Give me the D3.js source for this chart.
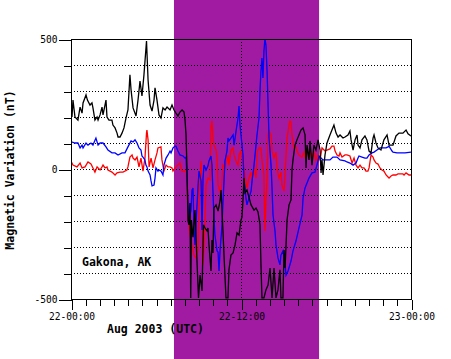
<!DOCTYPE html>
<html><head><meta charset="utf-8">
<script src="https://cdn.jsdelivr.net/npm/d3@7"></script>
<style>html,body{margin:0;padding:0;background:#fff;} svg{display:block;}</style>
</head><body>
<svg id="chart" width="451" height="359"></svg>
<script>
// ---- data (hours since 22-00:00 UTC, nT) ----
const xTickHours = [0, 12, 24];
const xTickLabels = ["22-00:00", "22-12:00", "23-00:00"];
const yLabeledTicks = [500, 0, -500];
const yGridValues = [400, 300, 200, 100, 0, -100, -200, -300, -400];
const highlightHours = [7.27, 17.51];
const stationName = "Gakona, AK";
const xTitle = "Aug 2003 (UTC)";
const yTitle = "Magnetic Variation (nT)";

const blackSeries = [
[0,265],[0.07,200],[0.14,265],[0.28,200],[0.49,188],[0.64,238],[0.78,215],[0.85,254],[1.06,285],[1.16,265],
[1.34,246],[1.48,254],[1.55,235],[1.69,188],[1.84,200],[1.91,188],[2.05,208],[2.19,238],[2.26,208],[2.47,265],
[2.54,200],[2.68,188],[2.89,188],[2.96,169],[3.11,158],[3.25,138],[3.32,123],[3.46,123],[3.6,138],[3.74,158],
[3.88,196],[4.02,227],[4.16,362],[4.24,304],[4.38,235],[4.59,204],[4.73,265],[4.87,338],[5.01,281],[5.15,362],
[5.33,492],[5.44,342],[5.58,246],[5.72,223],[5.86,265],[5.93,312],[6.07,265],[6.21,208],[6.35,196],[6.49,235],
[6.64,227],[6.78,238],[6.99,227],[7.13,246],[7.27,227],[7.41,215],[7.55,204],[7.69,219],[7.84,227],[7.98,219],
[8.05,188],[8.12,131],[8.19,-4],[8.26,-200],[8.33,-215],[8.4,-131],[8.45,-496],[8.5,-196],[8.61,-262],[8.75,-158],
[8.89,-350],[9.0,-496],[9.11,-408],[9.25,-469],[9.35,-215],[9.46,-227],[9.6,-238],[9.67,-227],[9.74,-292],[9.88,-392],
[9.95,-273],[10.02,-323],[10.09,-150],[10.24,-138],[10.38,-162],[10.52,-123],[10.59,-81],[10.66,-158],[10.8,-331],[10.94,-496],
[11.08,-496],[11.15,-388],[11.29,-331],[11.44,-323],[11.58,-292],[11.72,-246],[11.86,-254],[12.0,-196],[12.07,-185],[12.14,-119],
[12.21,-35],[12.28,-92],[12.42,-81],[12.56,-108],[12.71,-138],[12.92,-158],[13.06,-150],[13.2,-165],[13.34,-215],[13.41,-369],
[13.48,-496],[13.62,-496],[13.76,-465],[13.91,-446],[14.05,-381],[14.19,-496],[14.33,-381],[14.47,-496],[14.61,-465],[14.75,-388],
[14.82,-496],[14.96,-496],[15.04,-312],[15.11,-381],[15.18,-292],[15.25,-196],[15.39,-138],[15.53,-119],[15.6,-4],[15.67,35],
[15.81,92],[15.95,112],[16.09,131],[16.23,150],[16.38,158],[16.52,131],[16.59,4],[16.66,92],[16.8,35],[16.87,108],
[17.01,15],[17.15,92],[17.29,73],[17.44,112],[17.58,73],[17.65,-15],[17.72,35],[17.79,-23],[17.93,54],[18.07,100],
[18.28,131],[18.42,150],[18.56,169],[18.71,138],[18.85,123],[18.99,131],[19.2,119],[19.34,123],[19.55,131],[19.69,146],
[19.77,112],[19.91,73],[20.05,112],[20.19,131],[20.26,92],[20.4,81],[20.54,112],[20.75,127],[20.89,112],[21.04,69],
[21.18,62],[21.32,119],[21.39,131],[21.53,100],[21.67,81],[21.88,73],[22.09,112],[22.31,131],[22.45,92],[22.73,92],
[22.94,127],[23.15,138],[23.43,138],[23.65,150],[23.79,135],[24,127]
];

const redSeries = [
[0,8],[0.03,27],[0.14,15],[0.42,8],[0.64,23],[0.78,4],[0.99,8],[1.2,27],[1.41,19],[1.55,4],
[1.69,-12],[1.84,8],[2.05,-4],[2.19,8],[2.26,15],[2.4,4],[2.54,8],[2.61,-4],[2.89,-12],[3.11,-23],
[3.25,-15],[3.46,-12],[3.67,-12],[3.95,-4],[4.02,8],[4.16,46],[4.31,54],[4.38,42],[4.52,35],[4.66,46],
[4.8,8],[4.94,42],[5.08,-8],[5.22,42],[5.33,138],[5.36,150],[5.44,112],[5.51,8],[5.65,42],[5.79,4],
[5.93,35],[6.07,62],[6.14,81],[6.35,85],[6.42,35],[6.56,-8],[6.71,15],[6.85,8],[6.99,8],[7.13,4],
[7.2,-8],[7.34,4],[7.48,12],[7.69,23],[7.84,-8],[8.05,-8],[8.12,-4],[8.19,-62],[8.26,-177],[8.4,-254],
[8.54,-292],[8.68,-331],[8.82,-342],[8.96,-312],[9.04,-100],[9.18,31],[9.25,-119],[9.32,-369],[9.39,-292],[9.53,-62],
[9.67,-35],[9.81,-42],[9.88,158],[9.95,185],[10.02,119],[10.09,92],[10.24,73],[10.31,42],[10.38,-62],[10.45,-73],
[10.59,-100],[10.73,15],[10.87,4],[11.01,35],[11.08,54],[11.15,15],[11.29,73],[11.44,81],[11.51,54],[11.65,31],
[11.79,15],[11.86,54],[12.0,69],[12.14,15],[12.28,-23],[12.42,-73],[12.56,-35],[12.71,-12],[12.78,-42],[12.92,4],
[13.06,-35],[13.13,65],[13.27,81],[13.41,81],[13.48,35],[13.62,-23],[13.69,-238],[13.76,-119],[13.84,-42],[13.91,131],
[13.98,146],[14.12,131],[14.19,69],[14.33,42],[14.47,65],[14.54,4],[14.68,-35],[14.82,-12],[14.89,-62],[15.04,-85],
[15.18,54],[15.25,119],[15.39,169],[15.46,185],[15.53,181],[15.6,131],[15.74,81],[15.88,85],[15.95,69],[16.09,54],
[16.31,46],[16.45,65],[16.52,42],[16.66,81],[16.8,42],[16.87,73],[17.01,35],[17.15,69],[17.29,31],[17.44,54],
[17.58,35],[17.72,81],[17.93,69],[18.07,73],[18.28,77],[18.42,88],[18.56,88],[18.64,69],[18.78,54],[18.92,50],
[18.99,62],[19.13,46],[19.34,54],[19.48,54],[19.69,50],[19.84,23],[19.98,42],[20.12,15],[20.26,4],[20.4,15],
[20.54,4],[20.68,4],[20.82,-8],[20.96,-8],[21.04,4],[21.18,54],[21.32,46],[21.39,35],[21.53,23],[21.67,19],
[21.81,4],[21.95,-4],[22.09,-8],[22.24,-23],[22.38,-31],[22.45,-35],[22.59,-27],[22.73,-23],[22.94,-23],[23.08,-19],
[23.43,-19],[23.51,-23],[23.65,-15],[23.86,-23],[24,-23]
];

const blueSeries = [
[0,138],[0.03,100],[0.07,104],[0.28,100],[0.49,100],[0.64,81],[0.78,92],[0.85,81],[1.06,100],[1.2,92],
[1.41,100],[1.55,92],[1.76,119],[1.91,92],[2.05,100],[2.26,100],[2.47,85],[2.61,73],[2.89,62],[3.11,62],
[3.32,54],[3.6,62],[3.81,62],[4.02,85],[4.24,108],[4.38,104],[4.52,112],[4.66,100],[4.8,81],[4.94,73],
[5.01,50],[5.08,46],[5.22,35],[5.29,15],[5.36,8],[5.44,-8],[5.58,-23],[5.65,-46],[5.72,-65],[5.86,-62],
[5.93,-35],[6.0,4],[6.14,-8],[6.21,-4],[6.35,-8],[6.49,-23],[6.56,15],[6.71,42],[6.85,54],[6.99,69],
[7.06,62],[7.2,81],[7.34,88],[7.41,88],[7.55,69],[7.69,54],[7.91,50],[8.05,42],[8.12,46],[8.19,-42],
[8.26,-138],[8.33,-200],[8.47,-158],[8.54,-81],[8.61,-73],[8.68,-215],[8.75,-292],[8.82,-215],[8.96,-73],[9.04,-8],
[9.18,-46],[9.25,-235],[9.32,-35],[9.39,15],[9.53,-4],[9.67,12],[9.74,31],[9.88,50],[9.95,15],[10.02,-85],
[10.09,-188],[10.16,-254],[10.31,-315],[10.38,-319],[10.45,-392],[10.52,-315],[10.66,-215],[10.73,-123],[10.8,-46],[10.87,31],
[11.01,69],[11.08,119],[11.15,108],[11.29,119],[11.44,131],[11.51,92],[11.65,146],[11.79,196],[11.86,242],[11.93,169],
[12.0,131],[12.14,54],[12.21,-35],[12.35,-112],[12.42,-138],[12.56,-112],[12.71,-85],[12.78,-46],[12.92,15],[13.06,92],
[13.13,131],[13.27,196],[13.34,300],[13.41,377],[13.48,427],[13.55,350],[13.62,454],[13.69,500],[13.76,477],[13.84,377],
[13.91,246],[13.98,119],[14.12,15],[14.19,-73],[14.26,-177],[14.4,-238],[14.47,-292],[14.61,-342],[14.75,-369],[14.82,-331],
[14.96,-315],[15.11,-369],[15.18,-408],[15.32,-392],[15.53,-354],[15.67,-315],[15.88,-277],[16.09,-227],[16.31,-177],[16.38,-112],
[16.52,-73],[16.8,-35],[17.01,-15],[17.22,-12],[17.36,15],[17.51,50],[17.58,46],[17.79,35],[17.93,35],[18.28,35],
[18.49,46],[18.78,46],[18.99,35],[19.34,31],[19.48,27],[19.69,23],[19.91,15],[20.12,23],[20.26,42],[20.33,50],
[20.54,46],[20.75,42],[20.89,42],[21.04,54],[21.25,62],[21.39,65],[21.6,73],[21.81,81],[22.02,81],[22.24,81],
[22.38,85],[22.45,88],[22.66,69],[22.73,65],[23.01,62],[23.22,62],[23.58,62],[24,65]
];

// ---- drawing ----
const W = 451, H = 359;
const M = {left: 71, right: 411, top: 39, bottom: 299};
const svg = d3.select("#chart");
const x = d3.scaleLinear().domain([0, 24]).range([M.left, M.right]);
const y = d3.scaleLinear().domain([-500, 500]).range([M.bottom, M.top]);
const mono = "'DejaVu Sans Mono', 'Liberation Mono', monospace";

svg.append("rect").attr("width", W).attr("height", H).attr("fill", "#fff");

// highlighted interval band (full height)
svg.append("rect")
  .attr("x", x(highlightHours[0])).attr("y", 0)
  .attr("width", x(highlightHours[1]) - x(highlightHours[0])).attr("height", H)
  .attr("fill", "#a11aa2");

// dotted gridlines
const grid = svg.append("g").attr("stroke", "#000").attr("stroke-width", 1)
  .attr("stroke-dasharray", "1,2").attr("shape-rendering", "crispEdges");
grid.selectAll("line.h").data(yGridValues).join("line").attr("class", "h")
  .attr("x1", M.left).attr("x2", M.right)
  .attr("y1", d => Math.round(y(d)) + 0.5).attr("y2", d => Math.round(y(d)) + 0.5);
grid.append("line")
  .attr("x1", Math.round(x(12)) + 0.5).attr("x2", Math.round(x(12)) + 0.5)
  .attr("y1", M.top).attr("y2", M.bottom);

// clip
svg.append("clipPath").attr("id", "plotclip").append("rect")
  .attr("x", M.left).attr("y", M.top).attr("width", M.right - M.left).attr("height", M.bottom - M.top);

const line = d3.line().x(d => x(d[0])).y(d => y(d[1]));
const lines = svg.append("g").attr("clip-path", "url(#plotclip)").attr("fill", "none")
  .attr("stroke-width", 1.3).attr("stroke-linejoin", "miter");
lines.append("path").datum(redSeries).attr("d", line).attr("stroke", "#ff0000");
lines.append("path").datum(blueSeries).attr("d", line).attr("stroke", "#0000ff");
lines.append("path").datum(blackSeries).attr("d", line).attr("stroke", "#000000");

// frame
svg.append("rect").attr("x", M.left + 0.5).attr("y", M.top + 0.5)
  .attr("width", M.right - M.left).attr("height", M.bottom - M.top)
  .attr("fill", "none").attr("stroke", "#000").attr("shape-rendering", "crispEdges");

// x axis
const xAxis = d3.axisBottom(x).tickValues(d3.range(0, 25)).tickSize(6).tickSizeOuter(0)
  .tickFormat(d => { const i = xTickHours.indexOf(d); return i >= 0 ? xTickLabels[i] : ""; });
const gx = svg.append("g").attr("transform", `translate(0.5,${M.bottom + 0.5})`).call(xAxis);
gx.select(".domain").remove();
gx.selectAll(".tick line").attr("stroke", "#000").attr("shape-rendering", "crispEdges")
  .attr("y2", d => xTickHours.includes(d) ? 10 : 6);
gx.selectAll(".tick text").attr("y", 20).attr("dy", 0)
  .attr("font-family", mono).attr("font-size", "9.6px").attr("fill", "#000");

// y axis
const yAxis = d3.axisLeft(y).tickValues(d3.range(-500, 501, 100)).tickSize(8).tickSizeOuter(0)
  .tickFormat(d => yLabeledTicks.includes(d) ? String(d) : "");
const gy = svg.append("g").attr("transform", `translate(${M.left + 0.5},0.5)`).call(yAxis);
gy.select(".domain").remove();
gy.selectAll(".tick line").attr("stroke", "#000").attr("shape-rendering", "crispEdges")
  .attr("x2", d => yLabeledTicks.includes(d) ? -13 : -8);
gy.selectAll(".tick text").attr("x", -14).attr("dy", "0.35em")
  .attr("font-family", mono).attr("font-size", "9.6px").attr("fill", "#000");

// titles
const bold = {family: mono, size: "11.5px", weight: "bold"};
svg.append("text").attr("x", 107).attr("y", 333).text(xTitle)
  .attr("font-family", bold.family).attr("font-size", bold.size).attr("font-weight", bold.weight);
svg.append("text").attr("x", 82).attr("y", 266).text(stationName)
  .attr("font-family", bold.family).attr("font-size", bold.size).attr("font-weight", bold.weight);
svg.append("text").attr("transform", "translate(13.5,170) rotate(-90)")
  .attr("text-anchor", "middle").text(yTitle)
  .attr("font-family", bold.family).attr("font-size", bold.size).attr("font-weight", bold.weight);
</script>
</body></html>
